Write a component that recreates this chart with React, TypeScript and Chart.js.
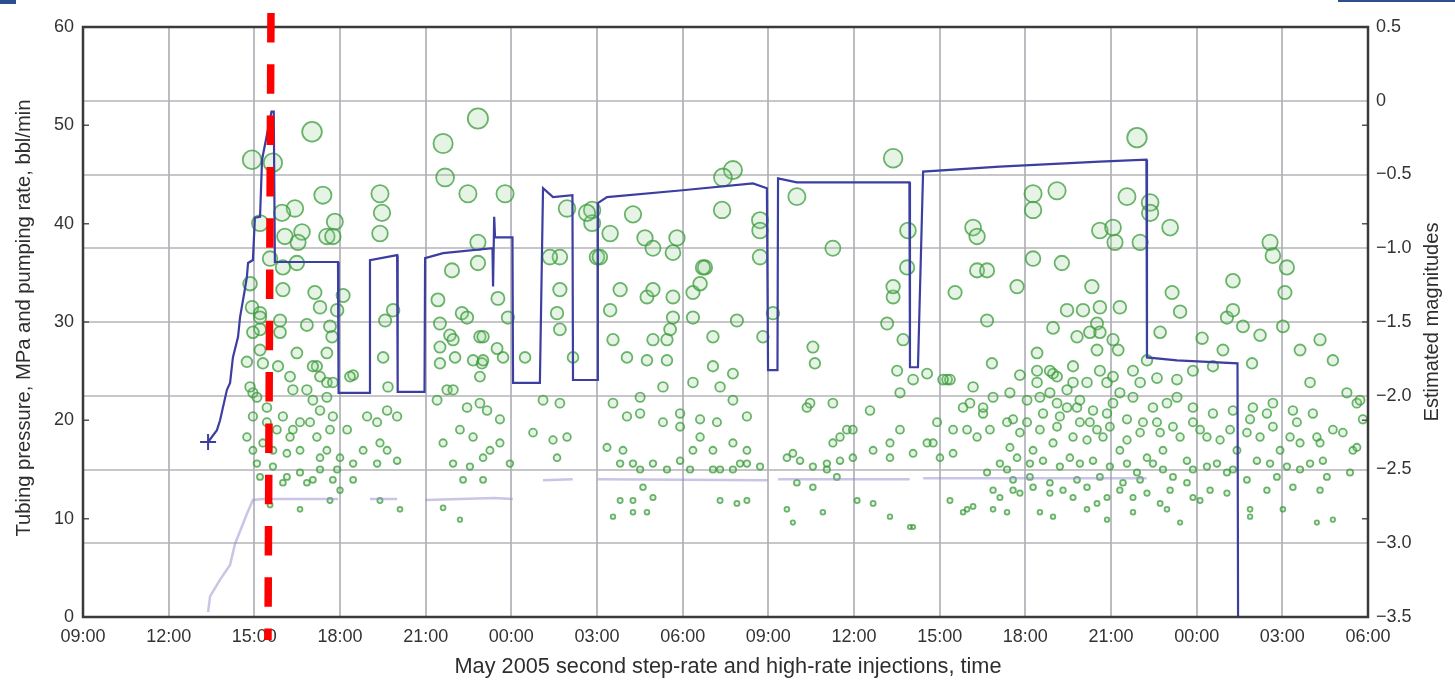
import React, { useEffect, useRef } from 'react';
import { Chart, registerables } from 'chart.js';

Chart.register(...registerables);

// Time axis: hours elapsed since 09:00 on the first day (0 .. 45 = 06:00 two days later)
const timeMin = 0;
const timeMax = 45;
const timeStep = 3;
const startClockHour = 9;

const leftAxisTicks = [0, 10, 20, 30, 40, 50, 60];
const magTicks = [-3.5, -3.0, -2.5, -2.0, -1.5, -1.0, -0.5, 0, 0.5];

const xTitle = 'May 2005 second step-rate and high-rate injections, time';
const leftTitle = 'Tubing pressure, MPa and pumping rate, bbl/min';
const rightTitle = 'Estimated magnitudes';

// marker time of the red dashed line (hours after 09:00)
const markerHour = 6.53;

// Tubing pressure (MPa) [hour, value]
const tubingPressure: [number, number][] = [
  [4.38, 17.8], [4.69, 19.0], [4.80, 20.0], [5.04, 23.1], [5.15, 23.8], [5.25, 26.4], [5.43, 28.5],
  [5.50, 30.5], [5.65, 33.0], [5.74, 34.6], [5.78, 36.0], [5.95, 36.3], [6.02, 40.6], [6.20, 40.7],
  [6.27, 46.5], [6.60, 51.4], [6.68, 51.4], [6.72, 36.1], [8.93, 36.1], [8.95, 22.8], [10.03, 22.8],
  [10.05, 36.3], [11.0, 36.8], [11.02, 22.9], [11.96, 22.9], [11.98, 36.5], [12.61, 37.0], [14.34, 37.5],
  [14.36, 33.6], [14.40, 40.7], [14.43, 38.6], [15.04, 38.6], [15.06, 23.8], [16.0, 23.8], [16.11, 43.6],
  [16.46, 42.7], [17.14, 42.9], [17.16, 24.1], [18.01, 24.1], [18.03, 42.1], [18.35, 42.7], [21.0, 43.4],
  [23.46, 44.1], [23.95, 43.6], [23.99, 25.1], [24.32, 25.1], [24.34, 44.6], [25.0, 44.2], [28.94, 44.2],
  [28.96, 25.4], [29.24, 25.4], [29.42, 45.3], [32.1, 45.8], [35.6, 46.3], [37.24, 46.5], [37.26, 26.4],
  [38.31, 26.1], [40.43, 25.8], [40.45, 0],
];

// Pumping rate (bbl/min) [hour, value], null = gap
const pumpingRate: [number, number | null][] = [
  [4.38, 0.5], [4.45, 2.1], [4.80, 3.8], [5.15, 5.3], [5.32, 7.4], [5.74, 10.5], [5.95, 11.9], [6.30, 12.0],
  [8.93, 12.0], [8.95, null], [10.05, 12.0], [11.0, 12.0], [11.02, null], [11.98, 11.9], [14.4, 12.1],
  [15.05, 12.0], [15.06, null], [16.11, 13.9], [17.15, 14.0], [17.16, null], [18.03, 14.0], [23.97, 13.9],
  [23.99, null], [24.34, 14.0], [28.95, 14.0], [28.96, null], [29.42, 14.1], [37.25, 14.1],
];

// Estimated magnitudes of events [hour, magnitude]
const eventsFirstDay: [number, number][] = [
  [5.92, -0.40], [6.65, -0.42], [8.02, -0.21], [8.40, -0.64], [7.42, -0.73], [6.97, -0.76], [6.20, -0.83],
  [7.67, -0.89], [7.53, -0.96], [7.07, -0.92], [8.82, -0.82], [8.54, -0.92], [8.75, -0.92], [6.55, -1.07],
  [7.00, -1.13], [7.49, -1.10], [5.85, -1.24], [7.00, -1.28], [8.12, -1.30], [9.11, -1.32], [5.92, -1.40],
  [8.30, -1.40], [8.90, -1.42], [6.20, -1.44], [6.90, -1.49], [7.84, -1.52], [8.65, -1.53], [8.72, -1.60],
  [6.20, -1.55], [6.20, -1.69], [7.49, -1.71], [5.74, -1.77], [6.30, -1.78], [8.54, -1.71], [8.19, -1.80],
  [9.46, -1.86], [6.83, -1.80], [5.95, -1.98], [7.35, -1.96], [8.54, -1.91], [8.05, -2.03], [10.40, -0.63],
  [10.47, -0.76], [10.40, -0.90], [10.86, -1.42], [10.58, -1.49], [10.51, -1.74], [10.68, -1.94],
  [12.61, -0.29], [13.83, -0.12], [12.68, -0.52], [13.48, -0.63], [14.78, -0.63], [13.83, -0.96],
  [13.83, -1.10], [12.92, -1.15], [12.43, -1.35], [13.27, -1.44], [12.50, -1.51], [12.85, -1.59],
  [13.90, -1.60], [14.53, -1.34], [14.88, -1.47], [14.50, -1.68], [14.71, -1.74], [15.48, -1.74],
  [13.03, -1.74], [13.97, -1.78], [12.50, -1.67], [13.90, -1.87], [12.75, -1.96],
  [8.05, -1.80], [8.30, -1.87], [5.85, -1.94], [6.09, -2.01], [8.75, -1.91], [9.35, -1.87], [5.95, -2.14],
  [6.44, -2.18], [7.00, -2.14], [7.60, -2.18], [8.30, -2.10], [8.75, -2.14], [9.25, -2.23], [5.74, -2.28],
  [6.30, -2.32], [7.25, -2.28], [7.60, -2.37], [8.19, -2.28], [8.54, -2.37], [9.00, -2.42], [9.46, -2.46],
  [6.09, -2.46], [6.65, -2.48], [7.14, -2.55], [7.60, -2.52], [7.84, -2.59], [8.30, -2.50], [8.75, -2.57],
  [9.00, -2.64], [9.95, -2.14], [10.30, -2.18], [10.65, -2.10], [11.00, -2.14], [10.40, -2.32],
  [10.65, -2.37], [10.30, -2.46], [11.00, -2.44], [9.81, -2.37], [12.96, -1.62], [12.50, -1.78],
  [13.45, -1.47], [13.66, -1.76], [12.40, -2.03], [12.96, -1.96], [13.45, -2.08], [13.90, -2.05],
  [13.20, -2.23], [12.61, -2.32], [13.66, -2.28], [14.25, -2.37], [12.96, -2.46], [13.55, -2.48],
  [13.31, -2.57], [14.01, -2.57],
  [6.55, -2.74], [7.60, -2.77], [8.65, -2.71], [10.40, -2.71], [11.10, -2.77], [12.61, -2.76], [13.20, -2.84],
  [5.95, -1.57], [6.20, -1.47], [6.90, -1.57], [7.25, -1.87], [7.84, -1.96], [8.54, -2.01], [6.44, -2.08],
  [6.79, -2.23], [7.35, -2.23], [7.95, -2.18], [8.65, -2.23], [5.95, -2.37], [6.65, -2.37], [7.14, -2.39],
  [8.30, -2.42], [6.20, -2.55], [7.00, -2.59], [8.05, -2.57], [8.90, -2.50], [9.46, -2.57],
];

const eventsFirstNight: [number, number][] = [
  [14.01, -1.60], [14.01, -1.76], [16.70, -1.06], [16.70, -1.28], [16.60, -1.44], [16.70, -1.55],
  [17.16, -1.74], [18.00, -1.06], [18.81, -1.28], [19.75, -1.33], [19.96, -1.28], [18.46, -1.42],
  [18.56, -1.62], [19.96, -1.62], [20.45, -1.62], [20.66, -1.47], [20.56, -1.55], [20.66, -1.33],
  [21.36, -1.47], [21.36, -1.30], [21.78, -1.13], [21.61, -1.24], [19.05, -1.74], [19.75, -1.76],
  [20.45, -1.76], [22.06, -1.80], [22.06, -1.60], [22.90, -1.49], [22.76, -1.85], [21.36, -1.91],
  [22.31, -1.94], [22.76, -2.03], [23.81, -1.60], [24.16, -1.44], [25.56, -1.67], [25.63, -1.78],
  [26.26, -2.05], [25.46, -2.05], [26.75, -2.23], [27.56, -2.10], [28.37, -1.33], [28.37, -1.26],
  [28.72, -1.62], [28.16, -1.51], [28.51, -1.83], [29.07, -1.89], [28.61, -1.98], [29.56, -1.85],
  [30.26, -1.89], [30.82, -2.08], [31.17, -1.94], [31.31, -1.15],
  [16.11, -2.03], [16.70, -2.05], [14.60, -2.16], [15.76, -2.25], [16.46, -2.30], [16.95, -2.28],
  [18.56, -2.05], [19.51, -2.01], [20.31, -1.94], [19.51, -2.12], [19.05, -2.14], [20.91, -2.12],
  [21.61, -2.16], [22.20, -2.18], [20.31, -2.18], [20.91, -2.21], [21.61, -2.28], [22.06, -2.37],
  [21.36, -2.37], [22.76, -2.32], [23.25, -2.14], [23.25, -2.37], [18.91, -2.37], [18.35, -2.35],
  [19.26, -2.46], [19.96, -2.46], [20.91, -2.44], [21.26, -2.50], [22.31, -2.50], [23.01, -2.46],
  [23.71, -2.48], [24.65, -2.42], [25.11, -2.44], [25.56, -2.48], [26.05, -2.46], [26.51, -2.28],
  [26.96, -2.23], [27.67, -2.37], [28.26, -2.32], [28.61, -2.23], [29.07, -2.39], [29.77, -2.32],
  [30.47, -2.39], [25.35, -2.08], [26.26, -2.32], [14.15, -2.10], [14.60, -2.32], [14.95, -2.46],
  [14.01, -2.42], [16.60, -2.42],
  [22.76, -0.47], [22.41, -0.52], [22.38, -0.74], [23.71, -0.81], [23.71, -0.88], [23.71, -1.06],
  [25.00, -0.65], [26.26, -1.00], [28.37, -0.39], [28.89, -0.88], [28.86, -1.13], [16.95, -0.73],
  [17.83, -0.74], [17.83, -0.83], [18.46, -0.90], [18.10, -1.06], [19.26, -0.77], [19.68, -0.93],
  [19.96, -1.00], [20.80, -0.93], [20.66, -1.03], [21.71, -1.13], [16.35, -1.06], [17.65, -0.76],
  [31.17, -0.86],
  [24.86, -2.39], [26.51, -2.44], [26.96, -2.42], [28.26, -2.42], [26.05, -2.50], [26.40, -2.55],
  [25.00, -2.59], [25.56, -2.62], [25.91, -2.79], [27.11, -2.71], [27.67, -2.73], [28.26, -2.82],
  [28.96, -2.89], [30.96, -2.77], [18.81, -2.71], [19.26, -2.71], [18.56, -2.82], [19.26, -2.79],
  [19.75, -2.79], [19.96, -2.69], [22.31, -2.71], [22.90, -2.73], [23.25, -2.71], [19.61, -2.62],
  [24.65, -2.77], [24.86, -2.86], [22.06, -2.50], [22.76, -2.50], [23.25, -2.46], [19.51, -2.50],
  [18.81, -2.46], [20.45, -2.50],
];

const eventsSecondDay: [number, number][] = [
  [36.91, -0.25], [33.27, -0.63], [34.11, -0.61], [33.27, -0.74], [36.56, -0.65], [37.37, -0.69],
  [37.37, -0.76], [38.07, -0.86], [31.31, -0.92], [35.61, -0.88], [36.07, -0.86], [36.14, -0.96],
  [37.02, -0.96], [33.27, -1.07], [34.28, -1.10], [31.66, -1.15], [32.71, -1.26], [30.54, -1.30],
  [35.33, -1.26], [38.14, -1.30], [41.57, -0.96], [41.67, -1.05], [42.16, -1.13], [40.27, -1.22],
  [42.09, -1.30], [34.46, -1.42], [35.02, -1.42], [35.61, -1.40], [36.31, -1.40], [33.97, -1.54],
  [35.51, -1.51], [35.61, -1.57], [36.07, -1.62], [35.26, -1.57], [34.81, -1.60], [36.25, -1.69],
  [35.51, -1.69], [33.41, -1.71], [38.42, -1.43], [39.19, -1.61], [37.72, -1.57], [40.06, -1.47],
  [40.62, -1.53], [41.22, -1.59], [42.02, -1.53], [39.92, -1.69], [40.94, -1.78], [42.62, -1.69],
  [43.32, -1.62], [43.77, -1.76], [44.26, -1.98], [44.61, -2.05], [40.27, -1.42], [31.83, -1.78],
  [31.66, -1.49], [30.36, -1.89], [38.31, -1.89], [39.57, -1.80], [37.26, -1.76], [32.81, -1.86],
  [33.41, -1.83], [33.97, -1.85], [34.67, -1.80], [35.16, -1.91], [35.86, -1.91], [36.31, -1.98],
  [34.46, -1.96], [33.86, -1.98], [37.02, -1.91], [37.96, -2.05], [38.87, -2.08], [39.57, -2.12],
  [40.87, -2.16], [41.46, -2.12], [42.51, -2.18], [43.21, -2.28], [43.77, -2.23], [44.47, -2.37],
  [31.87, -2.01], [30.96, -2.23], [31.52, -2.12], [32.57, -2.16], [33.06, -2.18], [33.62, -2.12],
  [34.21, -2.14], [34.81, -2.08], [35.26, -2.18], [35.86, -2.12], [36.56, -2.16], [37.02, -2.25],
  [37.61, -2.18], [38.42, -2.28], [39.12, -2.23], [39.82, -2.30], [40.41, -2.37], [41.22, -2.28],
  [41.92, -2.37], [42.62, -2.32], [43.42, -2.44], [32.46, -2.35], [33.27, -2.37], [33.97, -2.32],
  [34.56, -2.42], [35.16, -2.30], [35.72, -2.28], [36.31, -2.37], [37.26, -2.42], [37.82, -2.37],
  [38.66, -2.44], [39.36, -2.48], [40.06, -2.52], [40.76, -2.57], [41.57, -2.46], [42.16, -2.48],
  [42.97, -2.46], [44.37, -2.52], [32.36, -2.50], [32.57, -2.57], [33.16, -2.55], [33.86, -2.59],
  [34.81, -2.57], [35.61, -2.55], [36.31, -2.64], [37.02, -2.57], [37.82, -2.50], [38.66, -2.59],
  [39.47, -2.64], [32.11, -2.69], [32.81, -2.66], [34.67, -2.69], [35.51, -2.73], [36.77, -2.69],
  [37.72, -2.73], [39.12, -2.71], [40.87, -2.77], [42.37, -2.62], [43.32, -2.64], [43.77, -2.84],
  [42.02, -2.77], [30.36, -2.71], [30.82, -2.79], [31.17, -2.75], [32.36, -2.79], [33.97, -2.82],
  [35.86, -2.84], [37.96, -2.77], [30.12, -1.89], [29.56, -2.32], [30.01, -2.42], [31.87, -2.64],
  [29.07, -2.89], [44.61, -2.35], [44.72, -2.03], [44.82, -2.16],
];

const eventsSecondDayCluster: [number, number][] = [
  [33.86, -1.83], [34.11, -1.87], [34.67, -1.91], [35.61, -1.83], [36.07, -1.87], [36.77, -1.83],
  [37.61, -1.88], [38.87, -1.83], [42.97, -1.91], [33.41, -1.91], [32.46, -1.98], [33.06, -2.03],
  [33.51, -2.01], [34.11, -2.05], [34.46, -2.08], [34.91, -2.03], [35.37, -2.10], [36.07, -2.05],
  [36.77, -2.01], [37.47, -2.08], [38.31, -2.01], [40.27, -2.10], [40.97, -2.08], [41.67, -2.05],
  [42.37, -2.10], [43.07, -2.12], [31.52, -2.08], [31.06, -2.05], [32.36, -2.18], [32.81, -2.25],
  [33.51, -2.23], [34.11, -2.21], [34.67, -2.28], [34.91, -2.18], [35.51, -2.23], [35.96, -2.21],
  [36.56, -2.30], [37.12, -2.18], [37.72, -2.25], [38.17, -2.21], [38.87, -2.18], [39.36, -2.28],
  [40.17, -2.23], [40.76, -2.25], [41.67, -2.21], [42.27, -2.28], [43.32, -2.32], [44.12, -2.25],
  [31.76, -2.23], [31.31, -2.28], [30.47, -2.23], [29.91, -2.18], [32.71, -2.42], [33.16, -2.46],
  [33.62, -2.44], [34.21, -2.48], [34.91, -2.46], [35.37, -2.44], [35.96, -2.48], [36.56, -2.46],
  [36.91, -2.52], [37.47, -2.46], [38.17, -2.55], [38.87, -2.50], [39.71, -2.46], [40.27, -2.50],
  [41.11, -2.44], [41.81, -2.55], [42.62, -2.50], [43.56, -2.55], [32.11, -2.46], [31.66, -2.52],
  [32.57, -2.64], [33.27, -2.62], [33.86, -2.66], [34.32, -2.64], [35.16, -2.62], [35.86, -2.69],
  [36.42, -2.59], [37.26, -2.66], [38.07, -2.64], [38.87, -2.69], [40.06, -2.66], [41.46, -2.64],
  [31.87, -2.77], [33.51, -2.79], [35.16, -2.77], [36.77, -2.79], [38.42, -2.86], [40.87, -2.82],
  [43.21, -2.86],
];

const FONT = "'Liberation Sans', Arial, Helvetica, sans-serif";

function clockLabel(v: number): string {
  const hh = (startClockHour + Math.round(v)) % 24;
  return String(hh).padStart(2, '0') + ':00';
}

function magLabel(v: number): string {
  if (Math.abs(v) < 1e-9) return '0';
  const s = Math.abs(v).toFixed(1);
  return v < 0 ? '\u2212' + s : s;
}

function drawFitted(ctx: CanvasRenderingContext2D, text: string, cx: number, cy: number, width: number, angle: number, size: number) {
  ctx.save();
  ctx.font = `${size}px ${FONT}`;
  const w = ctx.measureText(text).width;
  ctx.translate(cx, cy);
  ctx.rotate(angle);
  ctx.scale(width / w, 1);
  ctx.fillStyle = '#2e2e2e';
  ctx.textAlign = 'center';
  ctx.textBaseline = 'middle';
  ctx.fillText(text, 0, 0);
  ctx.restore();
}

const overlayPlugin = {
  id: 'overlayPlugin',
  afterDraw(chart: any) {
    const { ctx, chartArea: a, scales } = chart;
    ctx.save();
    ctx.strokeStyle = '#555';
    ctx.lineWidth = 1.5;
    for (const v of leftAxisTicks) {
      const y = scales.y.getPixelForValue(v);
      ctx.beginPath();
      ctx.moveTo(a.left, y); ctx.lineTo(a.left + 6, y);
      ctx.moveTo(a.right - 6, y); ctx.lineTo(a.right, y);
      ctx.stroke();
    }
    ctx.strokeStyle = '#3a3a3a';
    ctx.lineWidth = 2.5;
    ctx.strokeRect(a.left, a.top, a.right - a.left, a.bottom - a.top);
    drawFitted(ctx, leftTitle, 24, 318, 437, -Math.PI / 2, 20);
    drawFitted(ctx, rightTitle, 1432, 322, 199, -Math.PI / 2, 20);
    drawFitted(ctx, xTitle, 728, 667, 547, 0, 22);
    const xm = scales.x.getPixelForValue(markerHour);
    ctx.strokeStyle = '#ff0000';
    ctx.lineWidth = 7.5;
    ctx.lineCap = 'butt';
    ctx.setLineDash([29.5, 21.8]);
    ctx.beginPath();
    ctx.moveTo(xm + 1.5, a.top - 14);
    ctx.lineTo(xm - 1.5, a.bottom + 23);
    ctx.stroke();
    ctx.setLineDash([]);
    ctx.fillStyle = '#2b4f8e';
    ctx.fillRect(0, 0, 16, 4);
    ctx.fillRect(1338, 0, 117, 2);
    ctx.restore();
  },
};

function toPoints(arr: [number, number | null][]) {
  return arr.map(([x, y]) => ({ x, y }));
}

function radiusFor(mag: number): number {
  return Math.max(2, 3.2 + (mag + 2.5) * 2.9);
}

export default function App() {
  const ref = useRef<HTMLCanvasElement | null>(null);

  useEffect(() => {
    const canvas = ref.current;
    if (!canvas) return;
    const events = [...eventsFirstDay, ...eventsFirstNight, ...eventsSecondDay, ...eventsSecondDayCluster];
    const chart = new Chart(canvas, {
      type: 'scatter',
      data: {
        datasets: [
          {
            label: 'Tubing pressure',
            data: toPoints(tubingPressure),
            showLine: true,
            borderColor: '#3c3ea2',
            backgroundColor: '#3c3ea2',
            borderWidth: 2.2,
            pointRadius: (c: any) => (c.dataIndex === 0 ? 8 : 0),
            pointStyle: 'cross',
            pointBorderWidth: 2,
            yAxisID: 'y',
          },
          {
            label: 'Pumping rate',
            data: toPoints(pumpingRate),
            showLine: true,
            spanGaps: false,
            borderColor: 'rgba(150,140,205,0.5)',
            borderWidth: 2.5,
            pointRadius: 0,
            yAxisID: 'y',
          },
          {
            label: 'Events',
            data: toPoints(events),
            showLine: false,
            yAxisID: 'y1',
            pointRadius: (c: any) => radiusFor(c.raw ? c.raw.y : -2.5),
            borderColor: 'rgba(60,155,60,0.75)',
            backgroundColor: 'rgba(140,205,140,0.22)',
            borderWidth: 1.8,
          },
        ],
      } as any,
      options: {
        responsive: false,
        animation: false,
        events: [],
        layout: { padding: { top: 27, left: 0, right: 0, bottom: 0 } },
        plugins: {
          legend: { display: false },
          tooltip: { enabled: false },
        },
        scales: {
          x: {
            type: 'linear',
            min: timeMin,
            max: timeMax,
            border: { display: false },
            grid: { color: 'rgba(165,165,175,0.75)', lineWidth: 2, drawTicks: false },
            ticks: {
              stepSize: timeStep,
              padding: 9,
              color: '#333',
              font: { family: FONT, size: 18 },
              callback: (v: any) => clockLabel(Number(v)),
              maxRotation: 0,
              autoSkip: false,
            },
            afterFit: (s: any) => { s.height = 67; s.paddingLeft = 0; s.paddingRight = 0; },
          },
          y: {
            position: 'left',
            min: 0,
            max: 60,
            border: { display: false },
            grid: { display: false, drawTicks: false },
            ticks: { stepSize: 10, padding: 9, color: '#333', font: { family: FONT, size: 18 } },
            afterFit: (s: any) => { s.width = 83; s.paddingTop = 0; s.paddingBottom = 0; },
          },
          y1: {
            position: 'right',
            min: -3.5,
            max: 0.5,
            border: { display: false },
            grid: { color: 'rgba(175,175,180,0.7)', lineWidth: 2, drawTicks: false },
            afterBuildTicks: (s: any) => { s.ticks = magTicks.map((v) => ({ value: v })); },
            ticks: {
              padding: 8,
              color: '#333',
              font: { family: FONT, size: 18 },
              callback: (v: any) => magLabel(Number(v)),
            },
            afterFit: (s: any) => { s.width = 87; s.paddingTop = 0; s.paddingBottom = 0; },
          },
        },
      } as any,
      plugins: [overlayPlugin],
    });
    return () => chart.destroy();
  }, []);

  return (
    <div style={{ position: 'fixed', left: 0, top: 0, width: 1455, height: 684, background: '#fff' }}>
      <canvas ref={ref} width={1455} height={684} style={{ display: 'block', width: 1455, height: 684 }} />
    </div>
  );
}
